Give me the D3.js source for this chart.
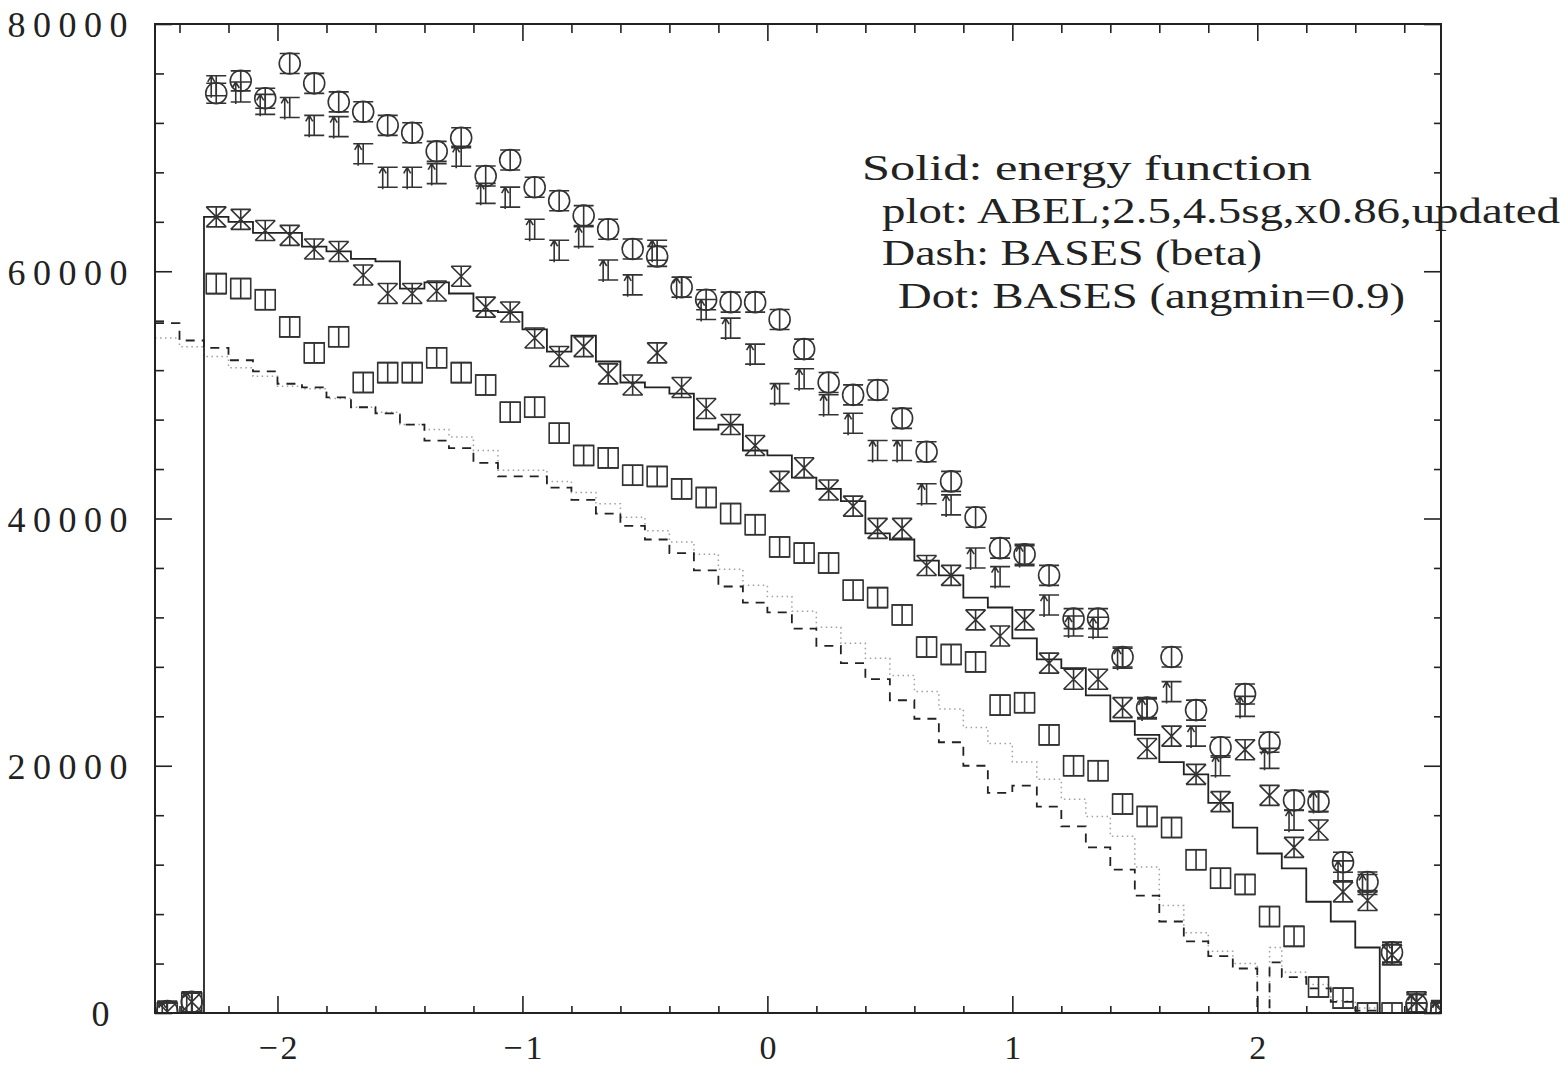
<!DOCTYPE html>
<html>
<head>
<meta charset="utf-8">
<script src="https://cdn.jsdelivr.net/npm/d3@7"></script>
<style>
  body { margin: 0; background: #fff; }
  svg text { font-family: "Liberation Serif", "DejaVu Serif", serif; fill: #222; }
</style>
</head>
<body>
<div id="graph"></div>
<script>
// bin centres of the measured points
const binCenters = [-2.45, -2.35, -2.25, -2.15, -2.05, -1.95, -1.85, -1.75, -1.65, -1.55,
  -1.45, -1.35, -1.25, -1.15, -1.05, -0.95, -0.85, -0.75, -0.65, -0.55,
  -0.45, -0.35, -0.25, -0.15, -0.05, 0.05, 0.15, 0.25, 0.35, 0.45,
  0.55, 0.65, 0.75, 0.85, 0.95, 1.05, 1.15, 1.25, 1.35, 1.45,
  1.55, 1.65, 1.75, 1.85, 1.95, 2.05, 2.15, 2.25, 2.35, 2.45,
  2.55, 2.65, 2.75];

const circleVals = [150, 900, 74400, 75400, 74000, 76800, 75200, 73700, 72900, 71800,
  71200, 69700, 70800, 67700, 69000, 66800, 65700, 64500, 63400, 61800,
  61200, 58700, 57700, 57500, 57500, 56100, 53700, 51000, 50000, 50400,
  48100, 45400, 43000, 40100, 37600, 37100, 35400, 31900, 31900, 28800,
  24700, 28800, 24500, 21500, 25800, 21900, 17200, 17100, 12200, 10600,
  4900, 700, 100];

const arrowVals = [100, 900, 75000, 74500, 73500, 73250, 71800, 71700, 69500, 67600,
  67600, 67900, 69300, 66300, 66000, 63400, 61700, 62800, 60100, 58900,
  61700, 58700, 56900, 55400, 53300, 50100, 51300, 49200, 47700, 45500,
  45500, 42000, 41100, 36800, 35300, 37000, 33000, 31300, 31200, 28700,
  24600, 26000, 22400, 20000, 24800, 20600, 15600, 17100, 11500, 10400,
  4900, 700, 100];

const crossVals = [100, 900, 64400, 64200, 63300, 62900, 61800, 61600, 59700, 58200,
  58200, 58400, 59600, 57100, 56700, 54600, 53100, 53900, 51700, 50800,
  53400, 50600, 48900, 47600, 45900, 43000, 44100, 42300, 41000, 39200,
  39200, 36200, 35400, 31800, 30500, 31800, 28300, 27000, 27000, 24700,
  21400, 22400, 19300, 17100, 21300, 17600, 13400, 14800, 9800, 9100,
  4700, 900, 200];

const squareVals = [0, 800, 59000, 58600, 57700, 55500, 53400, 54700, 51000, 51800,
  51800, 53000, 51800, 50800, 48600, 49000, 46900, 45100, 44900, 43500,
  43400, 42400, 41700, 40400, 39500, 37700, 37200, 36400, 34200, 33600,
  32200, 29600, 29000, 28400, 24900, 25100, 22500, 20000, 19600, 16900,
  15900, 15000, 12400, 10900, 10400, 7800, 6200, 2100, 1200, 0,
  0, 0, 0];

// solid histogram (energy function), bins of 0.1 from -2.3
const solidStart = -2.3;
const solidVals = [64400, 64000, 63100, 63100, 62000, 61600, 61000, 60800, 58600, 59100,
  58200, 56800, 56700, 55300, 53500, 54800, 52700, 51000, 50600, 50100,
  47200, 47600, 45500, 45100, 43300, 42400, 41400, 38800, 38300, 36600,
  35400, 33600, 32800, 30300, 28600, 27900, 25700, 23600, 22500, 20300,
  19300, 17000, 15000, 12900, 11700, 9000, 7400, 5300];

// BASES histograms: lower bin edges (one empty bin at 2.0-2.05)
const basesEdges = [-2.5, -2.4, -2.3, -2.2, -2.1, -2.0, -1.9, -1.8, -1.7, -1.6,
  -1.5, -1.4, -1.3, -1.2, -1.1, -1.0, -0.9, -0.8, -0.7, -0.6,
  -0.5, -0.4, -0.3, -0.2, -0.1, 0.0, 0.1, 0.2, 0.3, 0.4,
  0.5, 0.6, 0.7, 0.8, 0.9, 1.0, 1.1, 1.2, 1.3, 1.4,
  1.5, 1.6, 1.7, 1.8, 1.9, 2.0, 2.05, 2.1, 2.2, 2.3,
  2.4, 2.5];

const dashVals = [55800, 54400, 53800, 52800, 51900, 50900, 50600, 49800, 49000, 48500,
  47600, 46300, 45700, 44500, 43400, 43400, 42500, 41500, 40400, 39400,
  38300, 37200, 35800, 34500, 33200, 32400, 31100, 29700, 28300, 27000,
  25300, 23800, 21900, 20000, 17800, 18400, 16700, 15100, 13400, 11600,
  9500, 7400, 5800, 4600, 3600, 0, 4100, 2900, 2000, 900,
  200, 0];

const dotVals = [54600, 53900, 53100, 52200, 51500, 50700, 50500, 49700, 49000, 48600,
  47600, 47200, 46600, 45500, 43900, 43900, 43000, 42100, 41200, 40100,
  39000, 38100, 37100, 35900, 34600, 33700, 32500, 31200, 29900, 28700,
  27300, 26000, 24600, 23100, 21800, 20300, 18900, 17300, 15900, 14300,
  11800, 8700, 6500, 5000, 4000, 0, 5300, 3300, 2300, 1000,
  400, 0];

const xTicks = [-2, -1, 0, 1, 2];
const yTicks = [0, 20000, 40000, 60000, 80000];
const legendLines = [
  "Solid: energy function",
  "plot: ABEL;2.5,4.5sg,x0.86,updated",
  "Dash: BASES (beta)",
  "Dot: BASES (angmin=0.9)"
];

//set the dimensions and margins of the graph
const margin = { top: 24, right: 125, bottom: 54, left: 155 },
  width = 1286,
  height = 989;

const svg = d3
  .select("#graph")
  .append("svg")
  .attr("width", 1566)
  .attr("height", 1067);

const g = svg.append("g")
  .attr("transform", "translate(" + margin.left + "," + margin.top + ")");

const x = d3.scaleLinear().domain([-2.5, 2.75]).range([0, width]);
const y = d3.scaleLinear().domain([0, 80000]).range([height, 0]);

g.append("defs").append("clipPath")
  .attr("id", "clip")
  .append("rect")
  .attr("width", width)
  .attr("height", height);

const plot = g.append("g").attr("clip-path", "url(#clip)");

//histograms as step lines
const step = d3.line()
  .x(d => x(d[0]))
  .y(d => y(d[1]))
  .curve(d3.curveStepAfter);

const dotPts = basesEdges.map((e, i) => [e, dotVals[i]]).concat([[2.75, 0]]);
const dashPts = basesEdges.map((e, i) => [e, dashVals[i]]).concat([[2.75, 0]]);
const solidPts = [[-2.5, 0]]
  .concat(solidVals.map((v, i) => [solidStart + i * 0.1, v]))
  .concat([[2.5, 0], [2.75, 0]]);

plot.append("path")
  .attr("d", step(dotPts))
  .attr("fill", "none")
  .attr("stroke", "#a0a0a0")
  .attr("stroke-width", 1.5)
  .attr("stroke-dasharray", "1.5,3.5");

plot.append("path")
  .attr("d", step(dashPts))
  .attr("fill", "none")
  .attr("stroke", "#222")
  .attr("stroke-width", 1.8)
  .attr("stroke-dasharray", "9,7");

plot.append("path")
  .attr("d", step(solidPts))
  .attr("fill", "none")
  .attr("stroke", "#222")
  .attr("stroke-width", 1.8);

//markers, each with its error-bar caps
const capPath = "M-10,-10H10M-10,10H10M0,-10V10";
const markers = [
  { vals: squareVals, draw: m => {
      m.append("rect").attr("x", -10).attr("y", -10).attr("width", 20).attr("height", 20);
      m.append("path").attr("d", capPath);
    } },
  { vals: crossVals, draw: m => {
      m.append("path").attr("d", "M-10,-10L10,10M10,-10L-10,10" + capPath);
    } },
  { vals: arrowVals, draw: m => {
      m.append("path").attr("d", capPath + "M-5,12V-10M-5,-10L-8.5,-4M-5,-10L-1.5,-4");
    } },
  { vals: circleVals, draw: m => {
      m.append("circle").attr("r", 10.5);
      m.append("path").attr("d", capPath);
    } }
];

markers.forEach(function (s) {
  const sel = plot.append("g")
    .attr("fill", "none")
    .attr("stroke", "#333")
    .attr("stroke-width", 1.6)
    .selectAll("g")
    .data(binCenters.map((c, i) => ({ c: c, v: s.vals[i] })))
    .enter()
    .append("g")
    .attr("transform", d => "translate(" + x(d.c) + "," + y(d.v) + ")");
  sel.each(function () { s.draw(d3.select(this)); });
});

//axes: ticks pointing inward on all four sides
function ticks(axis, values, size, tr) {
  const a = g.append("g")
    .attr("transform", tr)
    .call(axis.tickValues(values).tickSize(size).tickFormat(""));
  a.select(".domain").remove();
  a.selectAll("line").attr("stroke", "#222").attr("stroke-width", 1.6);
  return a;
}
const xMinor = d3.range(-24, 28, 2).map(v => v / 10).filter(v => Math.abs(v % 1) > 0.01);
const yMinor = d3.range(0, 80001, 4000).filter(v => v % 20000 !== 0);

ticks(d3.axisBottom(x), xMinor, -7, "translate(0," + height + ")");
ticks(d3.axisTop(x), xMinor, -9, "translate(0,0)");
ticks(d3.axisLeft(y), yMinor, -9, "translate(0,0)");
ticks(d3.axisRight(y), yMinor, -7, "translate(" + width + ",0)");
ticks(d3.axisTop(x), xTicks, -17, "translate(0,0)");
ticks(d3.axisRight(y), yTicks, -17, "translate(" + width + ",0)");

const xAxis = g.append("g")
  .attr("transform", "translate(0," + height + ")")
  .call(d3.axisBottom(x).tickValues(xTicks).tickSize(-17).tickPadding(0)
    .tickFormat(d => d < 0 ? "\u2212" + Math.abs(d) : String(d)));
xAxis.select(".domain").remove();
xAxis.selectAll("line").attr("stroke", "#222").attr("stroke-width", 1.6);
xAxis.selectAll("text")
  .attr("font-family", "Liberation Serif")
  .attr("font-size", 34)
  .attr("letter-spacing", 3)
  .attr("dx", 1.5)
  .attr("y", 46)
  .attr("dy", 0)
  .attr("fill", "#222");

const yAxis = g.append("g")
  .call(d3.axisLeft(y).tickValues(yTicks).tickSize(-17).tickPadding(20)
    .tickFormat(d => String(d)));
yAxis.select(".domain").remove();
yAxis.selectAll("line").attr("stroke", "#222").attr("stroke-width", 1.6);
yAxis.selectAll("text")
  .attr("font-family", "Liberation Serif")
  .attr("font-size", 36)
  .attr("letter-spacing", 7.5)
  .attr("dx", d => d === 0 ? -18 : 0)
  .attr("dy", "0.36em")
  .attr("fill", "#222");

//frame
g.append("rect")
  .attr("width", width)
  .attr("height", height)
  .attr("fill", "none")
  .attr("stroke", "#222")
  .attr("stroke-width", 2);

//legend text
const legendX = [862, 882, 882, 898];
const legendW = [450, 678, 380, 507];
svg.append("g")
  .selectAll("text")
  .data(legendLines)
  .enter()
  .append("text")
  .attr("x", (d, i) => legendX[i])
  .attr("y", (d, i) => 180 + i * 42.7)
  .attr("font-size", 35)
  .attr("textLength", (d, i) => legendW[i])
  .attr("lengthAdjust", "spacingAndGlyphs")
  .text(d => d);
</script>
</body>
</html>
